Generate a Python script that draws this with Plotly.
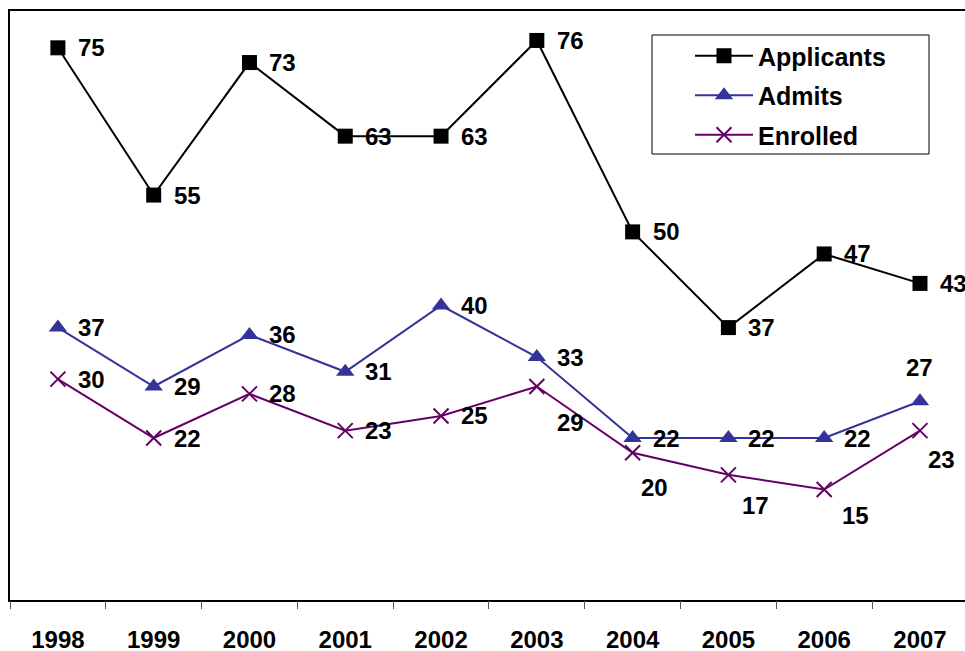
import plotly.graph_objects as go

years = ["1998", "1999", "2000", "2001", "2002", "2003", "2004", "2005", "2006", "2007"]
applicants = [75, 55, 73, 63, 63, 76, 50, 37, 47, 43]
admits = [37, 29, 36, 31, 40, 33, 22, 22, 22, 27]
enrolled = [30, 22, 28, 23, 25, 29, 20, 17, 15, 23]

# label offsets (pixels): (xshift, yshift, xanchor)
R = (18, 0, "left")
app_off = [R] * 10
adm_off = [R] * 9 + [(0, 34, "center")]
enr_off = [R] * 5 + [(18, -36, "left"), (6, -35, "left"), (12, -31, "left"),
                     (16, -26, "left"), (6, -29, "left")]

FONT = "Arial, 'Liberation Sans', sans-serif"

fig = go.Figure()
series = [
    ("Applicants", applicants, "#000000", dict(symbol="square", size=15, color="#000000")),
    ("Admits", admits, "#333399", dict(symbol="triangle-up", size=16, color="#333399")),
    ("Enrolled", enrolled, "#660066", dict(symbol="x-thin", size=15, color="#660066",
                                           line=dict(width=2, color="#660066"))),
]
for name, vals, col, mk in series:
    fig.add_trace(go.Scatter(x=list(range(len(years))), y=vals, name=name,
                             mode="lines+markers",
                             line=dict(color=col, width=2), marker=mk,
                             legendgroup=name))

annotations = []
for vals, offs in [(applicants, app_off), (admits, adm_off), (enrolled, enr_off)]:
    for i, v in enumerate(vals):
        dx, dy, xa = offs[i]
        annotations.append(dict(x=i, y=v, xref="x", yref="y", text=f"<b>{v}</b>",
                                showarrow=False,
                                xanchor=xa, yanchor="middle", xshift=dx, yshift=dy,
                                font=dict(family=FONT, size=24, color="#000000")))

# legend box (paper coords relative to plot area 10..965 x 11..600)
L, RR, T, B = 652, 929, 35, 154
px0, px1, py0, py1 = 10, 965, 11, 600
def fx(p): return (p - px0) / (px1 - px0)
def fy(p): return (py1 - p) / (py1 - py0)

fig.add_shape(type="rect", xref="paper", yref="paper",
              x0=fx(L), x1=fx(RR), y0=fy(B), y1=fy(T),
              line=dict(color="#000000", width=1), fillcolor="white", layer="below")

fig.update_layout(
    width=965, height=651,
    margin=dict(l=10, r=0, t=11, b=51, autoexpand=False),
    plot_bgcolor="white", paper_bgcolor="white",
    font=dict(family=FONT, color="#000000"),
    annotations=annotations,
    showlegend=True,
    legend=dict(x=fx(L + 38), y=fy(T - 2), xanchor="left", yanchor="top",
                borderwidth=0, bgcolor="rgba(0,0,0,0)",
                font=dict(family=FONT, size=25, color="#000000", weight="bold"),
                tracegroupgap=4, traceorder="grouped", itemwidth=58),
    xaxis=dict(tickmode="array", tickvals=list(range(len(years))), ticktext=years,
               range=[-0.5, 9.47], showgrid=False, zeroline=False, automargin=False,
               showline=True, linecolor="#000000", linewidth=2, mirror=True,
               ticks="", ticklabelstandoff=17,
               tickfont=dict(family=FONT, size=24, color="#000000", weight="bold")),
    xaxis2=dict(overlaying="x", matches="x", tickmode="array",
                tickvals=[i - 0.5 for i in range(len(years) + 1)],
                ticks="outside", ticklen=8, tickwidth=1, tickcolor="#555555",
                showticklabels=False, showgrid=False, zeroline=False, side="bottom",
                automargin=False, range=[-0.5, 9.47]),
    yaxis=dict(range=[0, 80], showline=True, linecolor="#000000", linewidth=2,
               automargin=False,
               showgrid=False, zeroline=False, showticklabels=False, ticks=""),
)
# invisible trace to show boundary ticks on xaxis2
fig.add_trace(go.Scatter(x=[0], y=[0], xaxis="x2", mode="markers",
                         marker=dict(opacity=0), showlegend=False, hoverinfo="skip"))

fig.write_html("out.html", config={"displayModeBar": False},
               post_script="document.body.style.margin='0';document.body.style.overflow='hidden';")
